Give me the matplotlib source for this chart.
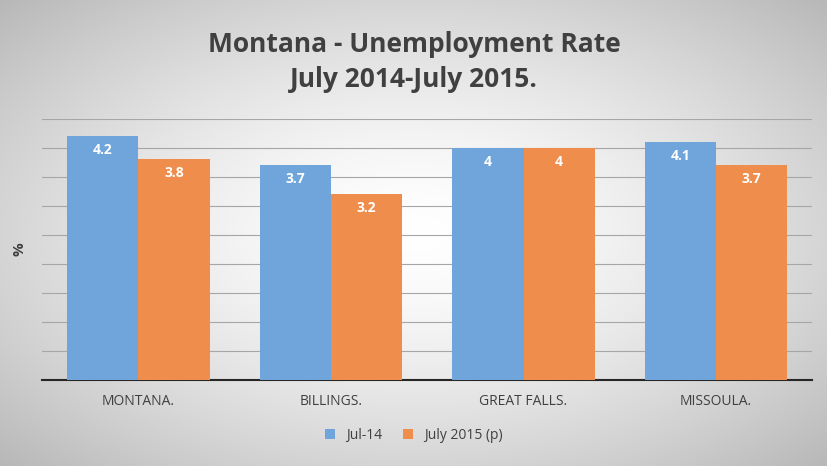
import numpy as np
import matplotlib
matplotlib.use("Agg")
import matplotlib.pyplot as plt

categories = ["MONTANA.", "BILLINGS.", "GREAT FALLS.", "MISSOULA."]
jul14 = [4.2, 3.7, 4.0, 4.1]
jul15 = [3.8, 3.2, 4.0, 3.7]
labels14 = ["4.2", "3.7", "4", "4.1"]
labels15 = ["3.8", "3.2", "4", "3.7"]
series_names = ["Jul-14", "July 2015 (p)"]

plt.rcParams['font.family'] = ['Open Sans', 'DejaVu Sans']
fig = plt.figure(figsize=(8.28, 4.66), dpi=100)

# radial gradient background
bg = fig.add_axes([0, 0, 1, 1])
yy, xx = np.mgrid[-1:1:300j, -1:1:500j]
r = np.sqrt(xx**2 + yy**2) / np.sqrt(2)
g = 1.0 - 0.28 * np.clip(r, 0, 1) ** 1.5
img = np.dstack([g, g, g])
bg.imshow(img, aspect='auto', extent=[0, 1, 0, 1])
bg.axis('off')

ax = fig.add_axes([0.051, 0.185, 0.93, 0.56])
ax.set_facecolor('none')
x = np.arange(len(categories))
w = 0.37
b1 = ax.bar(x - w/2, jul14, w, color='#6FA5DB', label=series_names[0], zorder=3)
b2 = ax.bar(x + w/2, jul15, w, color='#EF8D4C', label=series_names[1], zorder=3)
for bars, labs in ((b1, labels14), (b2, labels15)):
    for b, l in zip(bars, labs):
        ax.text(b.get_x() + b.get_width()/2, b.get_height() - 0.12, l,
                ha='center', va='top', color='white', fontsize=10, fontweight='bold', zorder=4)
ax.set_ylim(0, 4.5)
ax.set_xlim(-0.5, 3.5)
ax.set_yticks(np.arange(0, 4.51, 0.5))
ax.set_yticklabels([])
ax.tick_params(axis='y', length=0)
ax.tick_params(axis='x', length=0, pad=10, labelsize=10, colors='#404040')
ax.set_xticks(x)
ax.set_xticklabels(categories)
ax.grid(axis='y', color='#A6A6A6', linewidth=0.8, zorder=0)
for s in ('top', 'right', 'left'):
    ax.spines[s].set_visible(False)
ax.spines['bottom'].set_color('#262626')
ax.spines['bottom'].set_linewidth(1.5)
ax.set_ylabel('%', fontsize=11, fontweight='bold', color='#404040', labelpad=8)

fig.text(0.5, 0.905, "Montana - Unemployment Rate", ha='center', va='center',
         fontsize=19, fontweight='bold', color='#404040')
fig.text(0.5, 0.83, "July 2014-July 2015.", ha='center', va='center',
         fontsize=19, fontweight='bold', color='#404040')

fig.legend(loc='center', bbox_to_anchor=(0.5, 0.065), ncol=2, frameon=False,
           fontsize=10, handlelength=0.7, handleheight=0.7, columnspacing=1.5,
           labelcolor='#404040')

fig.savefig("out.png", dpi=100)
